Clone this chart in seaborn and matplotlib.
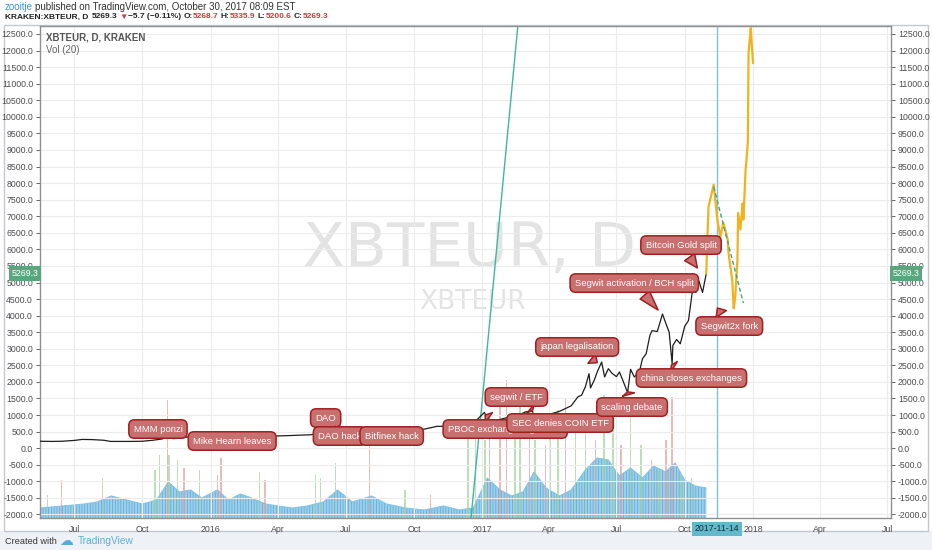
import numpy as np
import pandas as pd
import matplotlib
matplotlib.use("Agg")
import matplotlib.pyplot as plt
import matplotlib.transforms as mtransforms
from matplotlib.patches import Rectangle
from matplotlib.ticker import FuncFormatter, MultipleLocator
import seaborn as sns

# ---------------- data ----------------
price_dates = [
    "2015-05-16", "2015-06-01", "2015-06-15", "2015-07-01", "2015-07-12", "2015-07-25",
    "2015-08-10", "2015-08-19", "2015-09-01", "2015-09-15", "2015-10-01", "2015-10-15",
    "2015-10-28", "2015-11-04", "2015-11-11", "2015-11-20", "2015-12-01", "2015-12-15",
    "2016-01-01", "2016-01-15", "2016-02-01", "2016-02-15", "2016-03-01", "2016-03-15",
    "2016-04-01", "2016-04-15", "2016-05-01", "2016-05-15", "2016-06-01", "2016-06-12",
    "2016-06-17", "2016-06-22", "2016-07-01", "2016-07-15", "2016-08-01", "2016-08-03",
    "2016-08-15", "2016-09-01", "2016-09-15", "2016-10-01", "2016-10-15", "2016-11-01",
    "2016-11-15", "2016-12-01", "2016-12-15", "2016-12-25", "2017-01-04", "2017-01-11",
    "2017-01-20", "2017-02-01", "2017-02-15", "2017-03-01", "2017-03-10", "2017-03-11",
    "2017-03-24", "2017-04-01", "2017-04-15", "2017-05-01", "2017-05-10", "2017-05-15",
    "2017-05-20", "2017-05-25", "2017-05-27", "2017-06-01", "2017-06-05", "2017-06-11",
    "2017-06-15", "2017-06-20", "2017-06-25", "2017-07-01", "2017-07-05", "2017-07-10",
    "2017-07-16", "2017-07-20", "2017-07-25", "2017-08-01", "2017-08-05", "2017-08-10",
    "2017-08-15", "2017-08-18", "2017-08-25", "2017-09-01", "2017-09-05", "2017-09-10",
    "2017-09-14", "2017-09-15", "2017-09-20", "2017-09-25", "2017-10-01", "2017-10-06",
    "2017-10-12", "2017-10-16", "2017-10-20", "2017-10-25", "2017-10-30",
]
price_close = [
    210, 205, 210, 235, 265, 260,
    240, 205, 205, 205, 210, 240,
    280, 420, 290, 300, 340, 410,
    395, 350, 340, 360, 385, 370,
    370, 380, 395, 405, 475, 630,
    680, 540, 610, 600, 550, 480,
    510, 515, 540, 545, 575, 660,
    660, 715, 745, 860, 1080, 730,
    840, 910, 960, 1100, 1120, 940,
    860, 1020, 1110, 1280, 1550, 1600,
    1850, 2250, 1820, 2050, 2300, 2600,
    2150, 2400, 2260, 2160, 2300, 2020,
    1680, 2380, 2150, 2310, 2700, 2850,
    3400, 3550, 3520, 4050, 3800, 3500,
    2550, 3100, 3280, 3150, 3680, 3850,
    4850, 4700, 5050, 4700, 5269.3,
]

# hand-drawn projection (orange path) and dashed trend
proj_dates = [
    "2017-10-30", "2017-11-02", "2017-11-09", "2017-11-14", "2017-11-18", "2017-11-22",
    "2017-11-28", "2017-11-29", "2017-12-04", "2017-12-06", "2017-12-08", "2017-12-11",
    "2017-12-12", "2017-12-15", "2017-12-18", "2017-12-19", "2017-12-22", "2017-12-25",
    "2017-12-26", "2017-12-29", "2017-12-30", "2018-01-01",
]
proj_price = [
    5269, 7280, 7950, 6890, 6380, 6800,
    6290, 5890, 5080, 4220, 4550, 5680,
    7100, 6600, 7390, 6900, 8390, 9210,
    11920, 12680, 12320, 11620,
]
dash_dates = ["2017-11-09", "2017-12-19"]
dash_price = [7890, 4380]
steep_dates = ["2016-12-17", "2017-02-18"]
steep_price = [-2106, 12740]
marker_date = "2017-11-14"

# volume (Vol 20 moving average) and notable daily volume bars
vol_ma_dates = [
    "2015-05-16", "2015-06-15", "2015-07-15", "2015-08-01", "2015-08-20", "2015-09-10",
    "2015-10-01", "2015-10-20", "2015-11-05", "2015-11-20", "2015-12-05", "2015-12-20",
    "2016-01-10", "2016-01-25", "2016-02-10", "2016-02-25", "2016-03-15", "2016-04-01",
    "2016-04-20", "2016-05-10", "2016-06-01", "2016-06-20", "2016-07-10", "2016-08-05",
    "2016-08-25", "2016-09-20", "2016-10-15", "2016-11-10", "2016-12-01", "2016-12-20",
    "2017-01-08", "2017-01-25", "2017-02-10", "2017-02-25", "2017-03-12", "2017-03-28",
    "2017-04-15", "2017-05-01", "2017-05-20", "2017-06-05", "2017-06-20", "2017-07-05",
    "2017-07-20", "2017-08-05", "2017-08-20", "2017-09-05", "2017-09-18", "2017-10-01",
    "2017-10-15", "2017-10-30",
]
vol_ma = [
    10, 12, 14, 16, 22, 18,
    14, 18, 36, 26, 28, 20,
    28, 18, 24, 20, 14, 12,
    10, 12, 16, 28, 16, 22,
    14, 10, 8, 12, 8, 10,
    40, 28, 22, 26, 46, 30,
    22, 28, 48, 60, 58, 42,
    50, 40, 52, 46, 55, 38,
    32, 30,
]
spike_dates = [
    "2015-05-26", "2015-06-14", "2015-08-08", "2015-10-18", "2015-10-24", "2015-11-04",
    "2015-11-06", "2015-11-17", "2015-11-26", "2015-12-17", "2016-01-10", "2016-01-15",
    "2016-03-07", "2016-03-14", "2016-05-21", "2016-05-28", "2016-06-17", "2016-08-02",
    "2016-09-19", "2016-10-23", "2016-12-13", "2016-12-23", "2017-01-05", "2017-01-11",
    "2017-01-25", "2017-02-03", "2017-02-14", "2017-02-21", "2017-03-06", "2017-03-13",
    "2017-03-27", "2017-04-03", "2017-04-13", "2017-04-23", "2017-05-07", "2017-05-20",
    "2017-06-03", "2017-06-14", "2017-06-26", "2017-07-07", "2017-07-20", "2017-08-03",
    "2017-08-17", "2017-08-27", "2017-09-06", "2017-09-14", "2017-09-26", "2017-10-10",
]
spike_vol = [
    23, 38, 40, 48, 63, 118,
    63, 58, 50, 48, 43, 60,
    46, 38, 43, 40, 55, 87,
    28, 23, 88, 98, 78, 103,
    118, 138, 88, 123, 98, 78,
    73, 88, 108, 120, 98, 88,
    78, 123, 88, 73, 108, 73,
    58, 48, 78, 121, 43, 40,
]
spike_up = [
    True, False, True, True, True, False,
    True, True, False, True, False, False,
    True, False, True, True, True, False,
    True, False, True, True, True, False,
    False, False, True, True, False, True,
    False, True, True, False, True, True,
    False, True, True, False, True, True,
    False, True, False, False, True, True,
]

annotations = [
    # label, text date, text price, target date, target price
    ("MMM ponzi", "2015-10-22", 579, "2015-11-04", 420),
    ("Mike Hearn leaves", "2016-01-30", 217, "2016-01-15", 380),
    ("DAO", "2016-06-04", 911, "2016-06-12", 640),
    ("DAO hack", "2016-06-23", 368, "2016-06-17", 660),
    ("Bitfinex hack", "2016-09-01", 368, "2016-08-02", 520),
    ("PBOC exchange regulation", "2017-02-01", 579, "2017-01-05", 1000),
    ("segwit / ETF", "2017-02-16", 1545, "2017-03-10", 1150),
    ("SEC denies COIN ETF", "2017-04-16", 760, "2017-03-11", 1000),
    ("japan legalisation", "2017-05-09", 3055, "2017-06-05", 2580),
    ("scaling debate", "2017-07-22", 1243, "2017-07-16", 1700),
    ("china closes exchanges", "2017-10-10", 2118, "2017-09-13", 2510),
    ("Segwit activation / BCH split", "2017-07-25", 4983, "2017-08-26", 4170),
    ("Bitcoin Gold split", "2017-09-26", 6130, "2017-10-18", 5440),
    ("Segwit2x fork", "2017-11-30", 3687, "2017-11-14", 4230),
]

xtick_dates = ["2015-07-01", "2015-10-01", "2016-01-01", "2016-04-01", "2016-07-01",
               "2016-10-01", "2017-01-01", "2017-04-01", "2017-07-01", "2017-10-01",
               "2018-01-01", "2018-04-01", "2018-07-01"]
xtick_labels = ["Jul", "Oct", "2016", "Apr", "Jul", "Oct", "2017", "Apr", "Jul", "Oct",
                "2018", "Apr", "Jul"]
last_price = 5269.3

# ---------------- style ----------------
sns.set_style("white")
plt.rcParams["font.family"] = ["Liberation Sans", "DejaVu Sans"]
plt.rcParams["hatch.linewidth"] = 0.5

W, H = 932, 550
def fx(x):
    return x / W
def fy(y):
    return 1 - y / H

fig = plt.figure(figsize=(W / 100, H / 100), dpi=100)
fig.patch.set_facecolor("white")
fig.patches.append(Rectangle((0, 0), 1, fy(531), transform=fig.transFigure,
                             fc="#eef2f6", ec="none", zorder=-5))
fig.patches.append(Rectangle((fx(4), fy(531)), fx(924), (531 - 25) / H, transform=fig.transFigure,
                             fill=False, ec="#c3c7ce", lw=1.0, zorder=-4))

ax = fig.add_axes([fx(40), fy(518), fx(851), (518 - 26) / H])
ax_v = ax.twinx()
ax_v.set_zorder(ax.get_zorder() - 1)
ax.patch.set_visible(False)
ax_v.patch.set_facecolor("white")

pdates = pd.to_datetime(price_dates)
xmin, xmax = pd.Timestamp("2015-05-16"), pd.Timestamp("2018-07-06")

# volume
vdates = pd.to_datetime(vol_ma_dates)
ax_v.fill_between(vdates, 0, vol_ma, facecolor="#9acfee", edgecolor="#5fa8cc",
                  hatch="||||||", lw=0, zorder=1)
ax_v.plot(vdates, vol_ma, color="#86c4e8", lw=0.8, zorder=2)
sdates = pd.to_datetime(spike_dates)
scol = ["#9fd39a" if u else "#e39e9e" for u in spike_up]
ax_v.bar(sdates, spike_vol, width=2.0, color=scol, alpha=0.7, zorder=3, linewidth=0)
ax_v.set_ylim(0, 492)
ax_v.set_yticks([])
ax_v.tick_params(right=False, labelright=False)
for s in ax_v.spines.values():
    s.set_visible(False)

# grid
ax.set_xlim(xmin, xmax)
ax.set_ylim(-2106, 12740)
ax.yaxis.set_major_locator(MultipleLocator(500))
ax.set_xticks(pd.to_datetime(xtick_dates))
ax.set_xticklabels(xtick_labels)
ax.grid(True, color="#ececec", lw=0.8, zorder=0)
ax.set_axisbelow(True)

# steep trend line
sns.lineplot(x=pd.to_datetime(steep_dates), y=steep_price, ax=ax, color="#3db89a", lw=1.0)
# marker vertical line
ax.axvline(pd.Timestamp(marker_date), color="#7cc6d8", lw=1.0, zorder=2)

# price
sns.lineplot(x=pdates, y=price_close, ax=ax, color="#1e1e1e", lw=0.9, zorder=4)
# projection
sns.lineplot(x=pd.to_datetime(proj_dates), y=proj_price, ax=ax, color="#f2b21e", lw=1.6,
             zorder=5, sort=False)
ax.plot(pd.to_datetime(dash_dates), dash_price, color="#3aa58a", lw=1.0, ls=(0, (3, 2)), zorder=6)

# watermark
ax.text(0.505, 0.545, "XBTEUR, D", transform=ax.transAxes, fontsize=44, color="#e3e3e3",
        ha="center", va="center", zorder=0.1, family="DejaVu Sans")
ax.text(0.508, 0.44, "XBTEUR", transform=ax.transAxes, fontsize=19, color="#e3e3e3",
        ha="center", va="center", zorder=0.1, family="DejaVu Sans")

# annotations
for label, tx, tp, px, pp in annotations:
    ax.annotate(label, xy=(pd.Timestamp(px), pp), xytext=(pd.Timestamp(tx), tp),
                ha="center", va="center", color="white", fontsize=6.8, zorder=8,
                bbox=dict(boxstyle="round,pad=0.5,rounding_size=0.6", fc="#c86f6f",
                          ec="#a11f1f", lw=1.1),
                arrowprops=dict(arrowstyle="wedge,tail_width=1.3,shrink_factor=0.5",
                                fc="#c86f6f", ec="#a11f1f", lw=1.1, shrinkB=0))

# axes styling
for s in ax.spines.values():
    s.set_color("#8f8f8f")
    s.set_linewidth(1.0)
ax.yaxis.set_major_formatter(FuncFormatter(lambda v, p: f"{v:.1f}"))
ax.tick_params(axis="y", left=True, right=True, labelleft=True, labelright=True,
               labelsize=6.3, colors="#4d4d4d", length=3, width=0.6, pad=2)
ax.tick_params(axis="x", labelsize=6.3, colors="#4d4d4d", length=3, width=0.6, pad=2)
ax.set_xlabel("")
ax.set_ylabel("")
if ax.get_legend():
    ax.get_legend().remove()

# last price tags
blend = mtransforms.blended_transform_factory(ax.transAxes, ax.transData)
for xa, ha in [(-0.002, "right"), (1.002, "left")]:
    ax.text(xa, last_price, f"{last_price:.1f}", transform=blend, ha=ha, va="center",
            fontsize=6.3, color="white", zorder=10, clip_on=False,
            bbox=dict(boxstyle="square,pad=0.3", fc="#5aa77f", ec="none"))

# highlighted date label
blendx = mtransforms.blended_transform_factory(ax.transData, ax.transAxes)
ax.text(pd.Timestamp(marker_date), -0.013, marker_date, transform=blendx, ha="center", va="top",
        fontsize=6.3, color="#1d2b3a", zorder=10, clip_on=False,
        bbox=dict(boxstyle="square,pad=0.3", fc="#62b9cb", ec="none"))

# in-chart titles
ax.text(6 / 851, 1 - (37 - 26) / (518 - 26), "XBTEUR, D, KRAKEN", transform=ax.transAxes,
        fontsize=7, color="#555555", weight="bold", va="center", ha="left")
ax.text(6 / 851, 1 - (50 - 26) / (518 - 26), "Vol (20)", transform=ax.transAxes,
        fontsize=7, color="#666666", va="center", ha="left")

# header
renderer = fig.canvas.get_renderer()
fig.text(fx(5), fy(7), "zooitje", color="#3d94d6", fontsize=7, va="center")
fig.text(fx(35), fy(7), "published on TradingView.com, October 30, 2017 08:09 EST",
         color="#333333", fontsize=7, va="center")
red = "#d0393b"
pieces = [
    ("KRAKEN:XBTEUR, D", "#222222", "bold", 3),
    ("5269.3", "#222222", "bold", 2),
    ("\u25BC", red, "normal", 1),
    ("\u22125.7 (\u22120.11%)", "#222222", "bold", 2),
    ("O:", "#222222", "bold", 0.5),
    ("5268.7", red, "bold", 2),
    ("H:", "#222222", "bold", 0.5),
    ("5335.9", red, "bold", 2),
    ("L:", "#222222", "bold", 0.5),
    ("5200.6", red, "bold", 2),
    ("C:", "#222222", "bold", 0.5),
    ("5269.3", red, "bold", 0),
]
xpos = 5
for s, c, w, gap in pieces:
    t = fig.text(fx(xpos), fy(17), s, color=c, fontsize=6.0, weight=w, va="center",
                 family=["Liberation Sans", "DejaVu Sans"])
    bb = t.get_window_extent(renderer)
    xpos = bb.x1 + gap

# footer
fig.text(fx(5), fy(541), "Created with", color="#333333", fontsize=6.6, va="center")
fig.text(fx(59), fy(541), "\u2601", color="#56a9dc", fontsize=10, va="center", family="DejaVu Sans")
fig.text(fx(78), fy(541), "TradingView", color="#5aaee0", fontsize=7.3, va="center")

fig.savefig("out.png", dpi=100, facecolor=fig.get_facecolor())
